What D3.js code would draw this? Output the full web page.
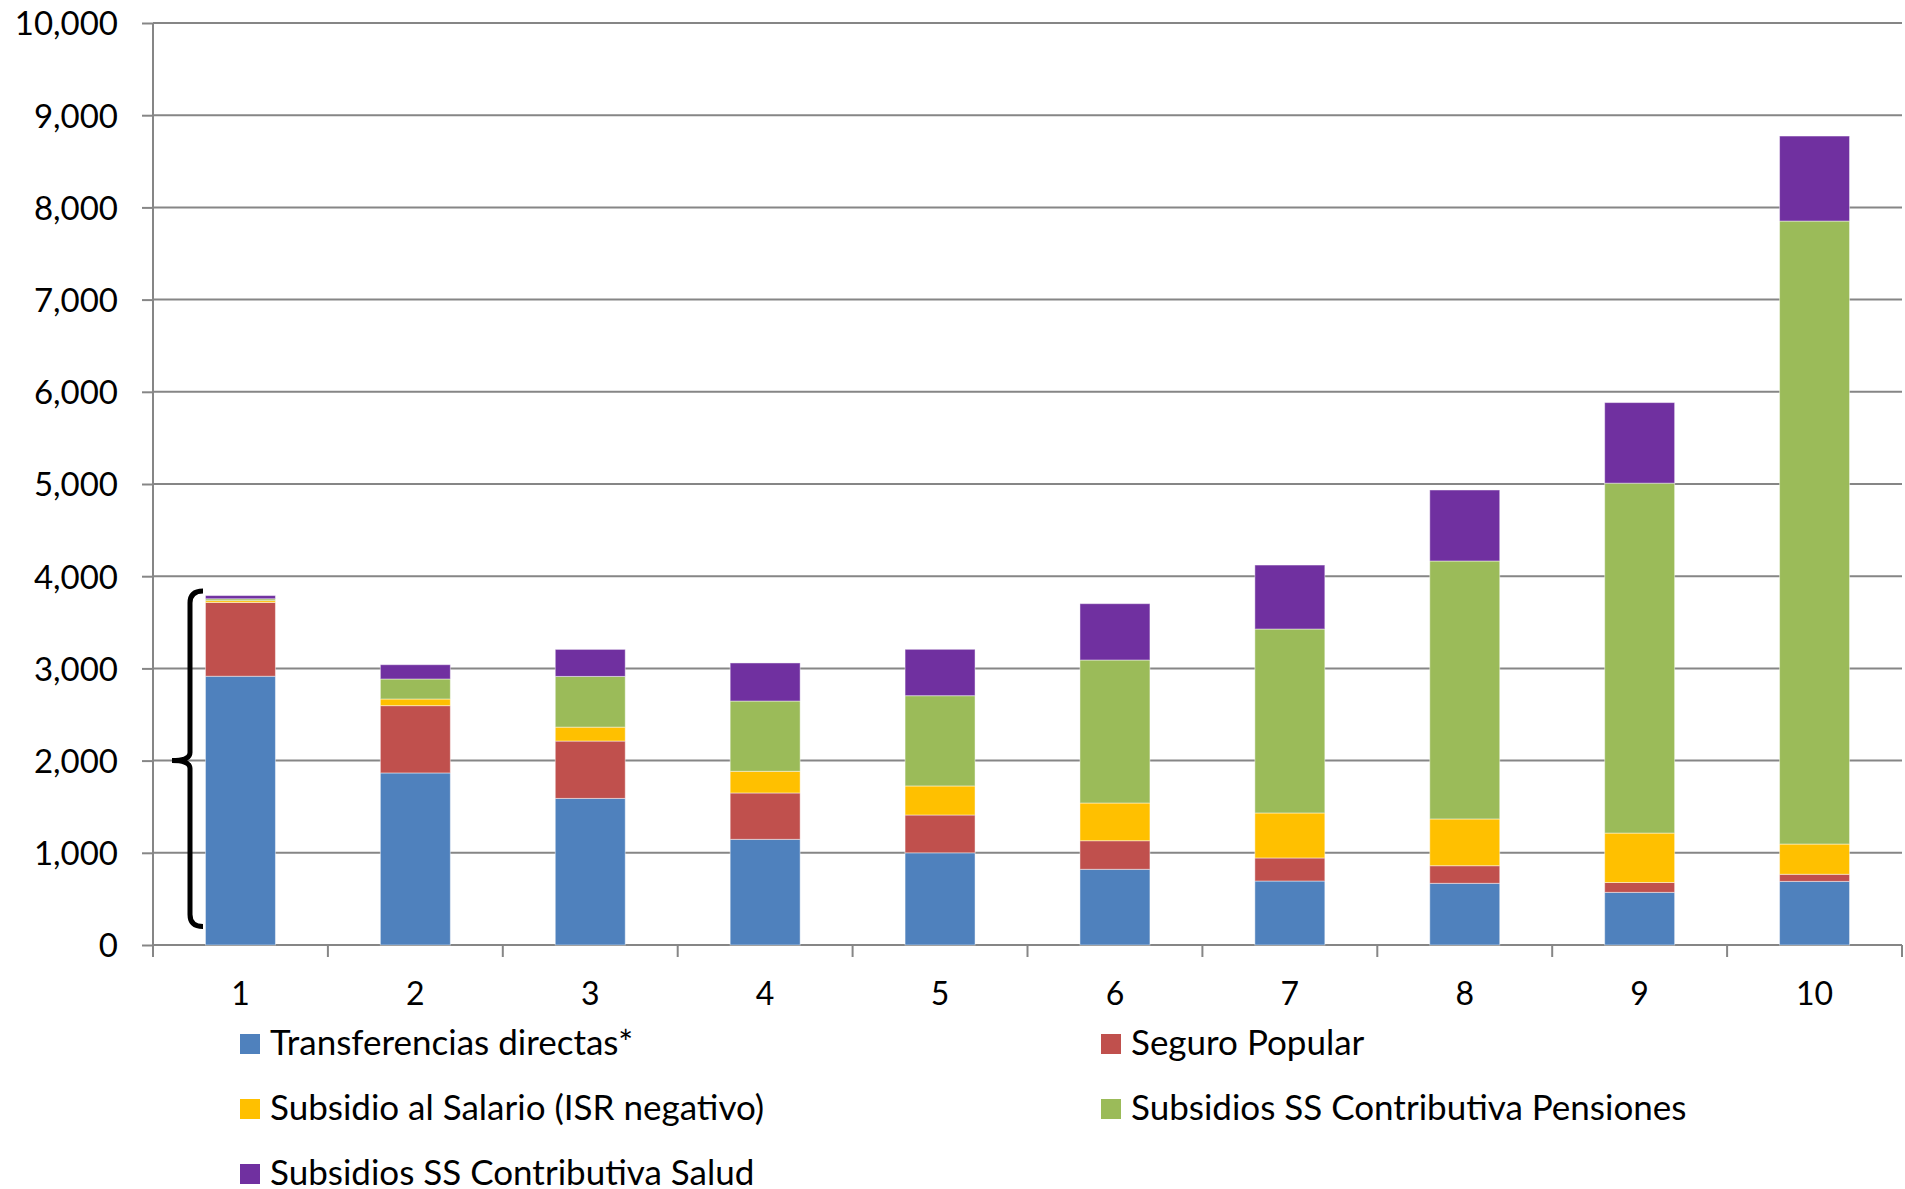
<!DOCTYPE html>
<head>
<meta charset="utf-8">
<script src="https://d3js.org/d3.v7.min.js"></script>
<style>
    body { margin: 0; background: #fff; }
    text {
        font-family: Lato, "Open Sans", sans-serif;
        fill: #000;
    }
    .grid line { stroke: #868686; stroke-width: 2px; }
    .yAxis path { display: none; }
    .yAxis .tick line { stroke: #868686; stroke-width: 2px; }
    .yAxis .tick text { font-size: 33px; }
    .xAxis path { display: none; }
    .xAxis .tick text { font-size: 32px; }
    .legend text { font-size: 35px; }
</style>
</head>
<body>
<svg width="1905" height="1189"></svg>
<script>
    // categories (deciles) and the five series
    var categories = ["1", "2", "3", "4", "5", "6", "7", "8", "9", "10"];
    var transferencias = [2915, 1866, 1590, 1146, 1000, 821, 694, 669, 571, 690];
    var seguroPopular  = [800, 730, 622, 503, 410, 310, 250, 191, 107, 77];
    var subsidioSalario = [20, 72, 151, 235, 315, 409, 488, 507, 536, 328];
    var pensiones = [20, 217, 550, 762, 979, 1551, 1995, 2798, 3795, 6757];
    var salud = [35, 155, 293, 413, 503, 611, 694, 770, 874, 922];
    var yTicks = [0, 1000, 2000, 3000, 4000, 5000, 6000, 7000, 8000, 9000, 10000];

    var seriesNames = ["Transferencias directas*", "Seguro Popular", "Subsidio al Salario (ISR negativo)",
                       "Subsidios SS Contributiva Pensiones", "Subsidios SS Contributiva Salud"];
    var seriesColors = ["#4F81BD", "#C0504D", "#FFC000", "#9BBB59", "#7030A0"];
    var seriesValues = [transferencias, seguroPopular, subsidioSalario, pensiones, salud];

    // bracket annotation next to the first bar (value range)
    var bracketRange = [200, 3840];

    var svg = d3.select("svg");
    var plotLeft = 153, plotRight = 1902, plotTop = 23, plotBottom = 945;

    var x = d3.scaleBand()
            .domain(categories)
            .range([plotLeft, plotRight])
            .paddingInner(0.6)
            .paddingOuter(0.3);

    var y = d3.scaleLinear()
            .domain([0, 10000])
            .range([plotBottom, plotTop]);

    // build rows for the stack
    var rows = categories.map(function (c, i) {
        var r = {cat: c};
        seriesNames.forEach(function (k, j) { r[k] = seriesValues[j][i]; });
        return r;
    });
    var stacked = d3.stack().keys(seriesNames)(rows);

    // gridlines
    svg.append("g")
        .attr("class", "grid")
        .selectAll("line")
        .data(yTicks)
        .enter().append("line")
        .attr("x1", plotLeft)
        .attr("x2", plotRight)
        .attr("y1", function (d) { return y(d); })
        .attr("y2", function (d) { return y(d); });

    // y axis
    var yAxisG = svg.append("g")
        .attr("class", "yAxis")
        .attr("transform", "translate(" + plotLeft + ",0)")
        .call(d3.axisLeft(y).tickValues(yTicks).tickSize(11).tickPadding(24).tickFormat(d3.format(",")));
    yAxisG.selectAll(".tick text").attr("dy", "0.36em");

    // vertical axis line
    svg.append("line")
        .attr("x1", plotLeft).attr("x2", plotLeft)
        .attr("y1", y(10000)).attr("y2", plotBottom + 12)
        .attr("stroke", "#868686").attr("stroke-width", 2);

    // category boundary ticks below the x axis
    svg.append("g")
        .selectAll("line")
        .data(d3.range(categories.length + 1))
        .enter().append("line")
        .attr("x1", function (i) { return plotLeft + i * x.step(); })
        .attr("x2", function (i) { return plotLeft + i * x.step(); })
        .attr("y1", plotBottom)
        .attr("y2", plotBottom + 12)
        .attr("stroke", "#868686")
        .attr("stroke-width", 2);

    // bars
    svg.append("g")
        .selectAll("g")
        .data(stacked)
        .enter().append("g")
        .attr("fill", function (d, i) { return seriesColors[i]; })
        .selectAll("rect")
        .data(function (d) { return d; })
        .enter().append("rect")
        .attr("x", function (d) { return x(d.data.cat); })
        .attr("y", function (d) { return y(d[1]); })
        .attr("height", function (d) { return y(d[0]) - y(d[1]); })
        .attr("width", x.bandwidth())
        .attr("stroke", "#ffffff")
        .attr("stroke-opacity", 0.45)
        .attr("stroke-width", 1);

    // x axis labels
    var xAxisG = svg.append("g")
        .attr("class", "xAxis")
        .attr("transform", "translate(0," + plotBottom + ")")
        .call(d3.axisBottom(x).tickSize(0));
    xAxisG.selectAll(".tick text").attr("y", 60).attr("dy", 0);

    // curly bracket beside bar 1
    var bx = plotLeft + 37, bTip = plotLeft + 19, bEnd = plotLeft + 50;
    var yTop = y(bracketRange[1]), yBot = y(bracketRange[0]), yMid = y(2000);
    var bracket = d3.path();
    bracket.moveTo(bEnd, yTop);
    bracket.quadraticCurveTo(bx, yTop, bx, yTop + 12);
    bracket.lineTo(bx, yMid - 8);
    bracket.quadraticCurveTo(bx, yMid, bTip, yMid);
    bracket.quadraticCurveTo(bx, yMid, bx, yMid + 8);
    bracket.lineTo(bx, yBot - 12);
    bracket.quadraticCurveTo(bx, yBot, bEnd, yBot);
    svg.append("path")
        .attr("d", bracket.toString())
        .attr("fill", "none")
        .attr("stroke", "#000")
        .attr("stroke-width", 5);

    // legend, two columns
    var legend = svg.append("g").attr("class", "legend");
    var legendItem = legend.selectAll("g")
        .data(seriesNames)
        .enter().append("g")
        .attr("transform", function (d, i) {
            return "translate(" + (i % 2 === 0 ? 240 : 1101) + "," + (1034 + Math.floor(i / 2) * 65) + ")";
        });
    legendItem.append("rect")
        .attr("width", 20)
        .attr("height", 20)
        .attr("fill", function (d, i) { return seriesColors[i]; });
    legendItem.append("text")
        .attr("x", 30)
        .attr("y", 21)
        .text(function (d) { return d; });
</script>
</body>
